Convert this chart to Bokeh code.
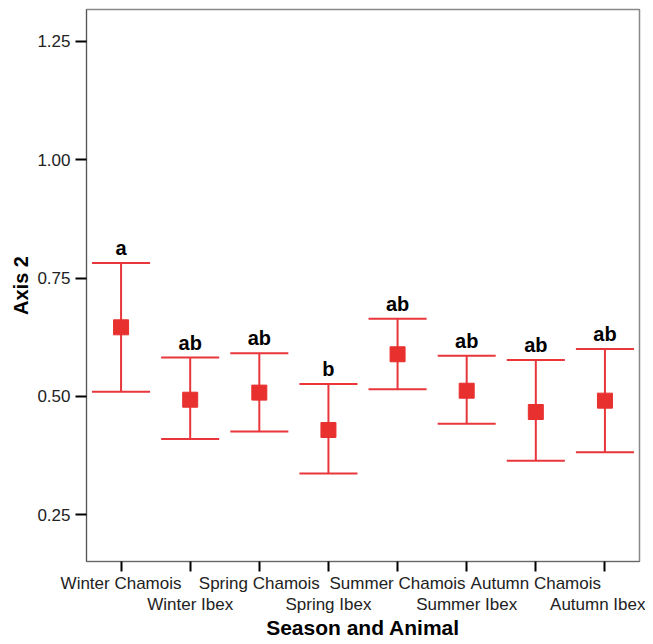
from bokeh.plotting import figure
from bokeh.models import FixedTicker, Range1d, NumeralTickFormatter, ColumnDataSource
from bokeh.core.properties import value
from bokeh.embed import file_html
from bokeh.resources import INLINE

categories = ["Winter Chamois", "Winter Ibex", "Spring Chamois", "Spring Ibex",
              "Summer Chamois", "Summer Ibex", "Autumn Chamois", "Autumn Ibex"]
means = [0.646, 0.493, 0.508, 0.429, 0.589, 0.512, 0.467, 0.491]
lower = [0.510, 0.410, 0.426, 0.337, 0.515, 0.442, 0.364, 0.382]
upper = [0.782, 0.582, 0.591, 0.526, 0.664, 0.586, 0.577, 0.600]
letters = ["a", "ab", "ab", "b", "ab", "ab", "ab", "ab"]
y_ticks = [0.25, 0.50, 0.75, 1.00, 1.25]

RED = "#e8363a"
FONT = "Liberation Sans"
CAP = 0.42

xs = list(range(len(categories)))
src = ColumnDataSource(dict(
    x=xs, mean=means, lo=lower, hi=upper, letter=letters,
    cx0=[x - CAP for x in xs], cx1=[x + CAP for x in xs],
))

p = figure(width=645, height=642, output_backend="svg", toolbar_location=None,
           x_range=Range1d(-0.5, len(categories) - 0.5),
           y_range=Range1d(0.1511, 1.3176),
           min_border_left=86, min_border_right=6, min_border_top=9, min_border_bottom=81)

p.xgrid.visible = False
p.ygrid.visible = False
p.outline_line_color = "#888888"
p.outline_line_width = 1.5
p.background_fill_color = "white"
p.border_fill_color = "white"

# error bars
p.segment(x0="x", y0="lo", x1="x", y1="hi", source=src, line_color=RED, line_width=2)
p.segment(x0="cx0", y0="hi", x1="cx1", y1="hi", source=src, line_color=RED, line_width=2)
p.segment(x0="cx0", y0="lo", x1="cx1", y1="lo", source=src, line_color=RED, line_width=2)
p.scatter(x="x", y="mean", source=src, marker="square", size=15,
          fill_color="#e8302f", line_color="#e8302f")
p.text(x="x", y="hi", text="letter", source=src, text_align="center",
       text_baseline="alphabetic", y_offset=-15, text_font=value(FONT),
       text_font_style="bold", text_font_size="20px", text_color="black")

# x axis
p.xaxis.ticker = FixedTicker(ticks=xs)
p.xaxis.major_label_overrides = {
    i: (c if i % 2 == 0 else "\n" + c) for i, c in enumerate(categories)
}
p.xaxis.axis_label = "Season and Animal"
p.xaxis.axis_label_text_font = FONT
p.xaxis.axis_label_text_font_style = "bold"
p.xaxis.axis_label_text_font_size = "21px"
p.xaxis.axis_label_text_color = "black"
p.xaxis.axis_label_standoff = -1
p.xaxis.major_label_text_font = FONT
p.xaxis.major_label_text_font_size = "17px"
p.xaxis.major_label_text_line_height = 1.12
p.xaxis.major_label_text_color = "#222222"
p.xaxis.major_label_standoff = 2
p.xaxis.major_tick_out = 10
p.xaxis.major_tick_in = 0
p.xaxis.major_tick_line_width = 2
p.xaxis.major_tick_line_color = "black"
p.xaxis.minor_tick_line_color = None
p.xaxis.axis_line_color = "#666666"

# y axis
p.yaxis.ticker = FixedTicker(ticks=y_ticks)
p.yaxis.formatter = NumeralTickFormatter(format="0.00")
p.yaxis.axis_label = "Axis 2"
p.yaxis.axis_label_text_font = FONT
p.yaxis.axis_label_text_font_style = "bold"
p.yaxis.axis_label_text_font_size = "20px"
p.yaxis.axis_label_text_color = "black"
p.yaxis.axis_label_standoff = 2
p.yaxis.major_label_text_font = FONT
p.yaxis.major_label_text_font_size = "17px"
p.yaxis.major_label_text_color = "#222222"
p.yaxis.major_label_standoff = 5
p.yaxis.major_tick_out = 11
p.yaxis.major_tick_in = 0
p.yaxis.major_tick_line_width = 2
p.yaxis.major_tick_line_color = "black"
p.yaxis.minor_tick_line_color = None
p.yaxis.axis_line_color = "#555555"

open("out.html", "w").write(file_html(p, INLINE))
